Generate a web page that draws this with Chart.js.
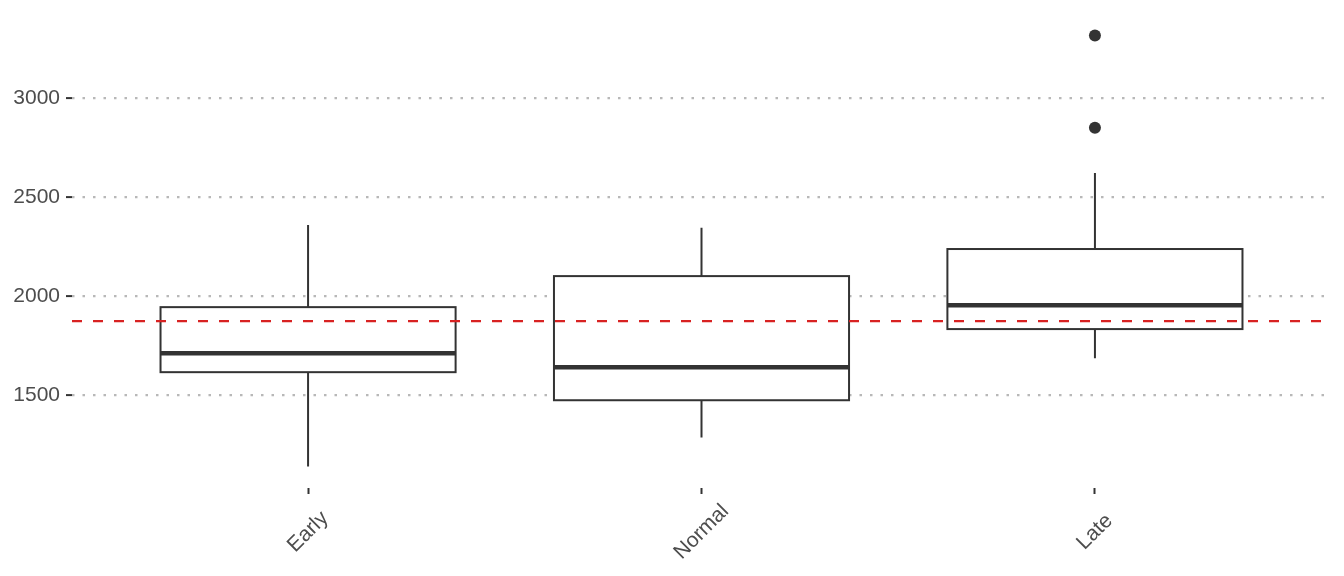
<!DOCTYPE html>
<html>
<head>
<meta charset="utf-8">
<script src="https://cdn.jsdelivr.net/npm/chart.js@4/dist/chart.umd.min.js"></script>
<style>
  html, body { margin: 0; padding: 0; background: #fff; }
  #wrap { width: 1344px; height: 576px; }
</style>
</head>
<body>
<div id="wrap"><canvas id="chart"></canvas></div>
<script>
// categories and box statistics
const categories = ['Early', 'Normal', 'Late'];
const whiskerLow = [1138, 1285, 1686];
const q1 = [1615, 1473, 1833];
const median = [1711, 1640, 1954];
const q3 = [1944, 2101, 2238];
const whiskerHigh = [2360, 2345, 2623];
const outliers = [[], [], [2851, 3318]];
const referenceValue = 1873;
const yTicks = [1500, 2000, 2500, 3000];

const textColor = '#4d4d4d';
const inkColor = '#333333';

// boxes, whiskers and medians drawn with the chart's own scales
const boxPlugin = {
    id: 'boxes',
    beforeDatasetsDraw(chart) {
        const ctx = chart.ctx;
        const x = chart.scales.x;
        const y = chart.scales.y;
        const halfWidth = (x.getPixelForValue(0.375) - x.getPixelForValue(0));
        ctx.save();
        categories.forEach((cat, i) => {
            const cx = x.getPixelForValue(i);
            const left = cx - halfWidth;
            const right = cx + halfWidth;
            ctx.strokeStyle = inkColor;
            ctx.lineWidth = 2;
            // whiskers
            ctx.beginPath();
            ctx.moveTo(cx, y.getPixelForValue(q3[i]));
            ctx.lineTo(cx, y.getPixelForValue(whiskerHigh[i]));
            ctx.moveTo(cx, y.getPixelForValue(q1[i]));
            ctx.lineTo(cx, y.getPixelForValue(whiskerLow[i]));
            ctx.stroke();
            // box
            const top = y.getPixelForValue(q3[i]);
            const bottom = y.getPixelForValue(q1[i]);
            ctx.fillStyle = '#ffffff';
            ctx.fillRect(left, top, right - left, bottom - top);
            ctx.strokeRect(left, top, right - left, bottom - top);
            // median
            ctx.lineWidth = 4.5;
            ctx.beginPath();
            ctx.moveTo(left, y.getPixelForValue(median[i]));
            ctx.lineTo(right, y.getPixelForValue(median[i]));
            ctx.stroke();
        });
        ctx.restore();
    },
    afterDraw(chart) {
        // rotated category labels, centred under their tick
        const ctx = chart.ctx;
        const x = chart.scales.x;
        const baseY = chart.chartArea.bottom + 44;
        ctx.save();
        ctx.fillStyle = textColor;
        ctx.font = '21px "Liberation Sans", Arial, sans-serif';
        ctx.textAlign = 'center';
        ctx.textBaseline = 'middle';
        categories.forEach((cat, i) => {
            ctx.save();
            ctx.translate(x.getPixelForValue(i), baseY);
            ctx.rotate(-Math.PI / 4);
            ctx.fillText(cat, 0, 0);
            ctx.restore();
        });
        ctx.restore();
    }
};

const outlierPoints = [];
outliers.forEach((list, i) => {
    list.forEach(v => outlierPoints.push({ x: i, y: v }));
});

const xMin = -0.6;
const xMax = categories.length - 1 + 0.6;

new Chart(document.getElementById('chart'), {
    type: 'scatter',
    data: {
        datasets: [{
            type: 'line',
            data: [{ x: xMin, y: referenceValue }, { x: xMax, y: referenceValue }],
            borderColor: '#d82222',
            borderWidth: 2.2,
            borderDash: [10, 11],
            pointRadius: 0,
            fill: false
        }, {
            data: outlierPoints,
            backgroundColor: inkColor,
            borderColor: inkColor,
            pointRadius: 6,
            borderWidth: 0
        }]
    },
    options: {
        responsive: true,
        maintainAspectRatio: false,
        animation: false,
        layout: { padding: { left: 0, right: 13, top: 14, bottom: 0 } },
        plugins: {
            legend: { display: false },
            tooltip: { enabled: false }
        },
        scales: {
            x: {
                type: 'linear',
                min: xMin,
                max: xMax,
                afterFit: s => { s.height = 88; s.paddingLeft = 0; s.paddingRight = 0; },
                afterBuildTicks: s => { s.ticks = categories.map((c, i) => ({ value: i })); },
                ticks: { display: false },
                border: { display: false },
                grid: {
                    drawOnChartArea: false,
                    drawTicks: true,
                    tickLength: 6,
                    tickWidth: 2,
                    tickColor: inkColor
                }
            },
            y: {
                type: 'linear',
                min: 1029,
                max: 3427,
                afterFit: s => { s.width = 72; s.paddingTop = 0; s.paddingBottom = 0; },
                afterBuildTicks: s => { s.ticks = yTicks.map(v => ({ value: v })); },
                ticks: {
                    color: textColor,
                    padding: 6,
                    font: { family: '"Liberation Sans", Arial, sans-serif', size: 21 },
                    callback: v => String(v)
                },
                border: { display: false, dash: [2.5, 8] },
                grid: {
                    color: '#b8b8b8',
                    lineWidth: 2.2,
                    tickLength: 6,
                    tickWidth: 2,
                    tickColor: inkColor,
                    tickBorderDash: []
                }
            }
        }
    },
    plugins: [boxPlugin]
});
</script>
</body>
</html>
